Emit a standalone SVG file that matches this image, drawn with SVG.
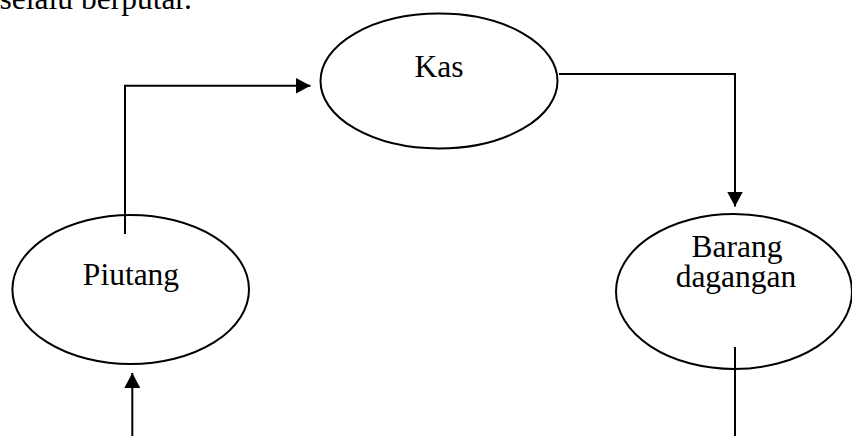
<svg xmlns="http://www.w3.org/2000/svg" width="852" height="436" viewBox="0 0 852 436">
  <style>
    .node { fill: #ffffff; stroke: #000000; stroke-width: 2; }
    .label { font-family: "Liberation Serif", "Times New Roman", serif; font-size: 31.5px; fill: #000000; }
    .edge { fill: none; stroke: #000000; stroke-width: 2; }
  </style>
  <defs>
    <marker id="arrow" markerUnits="userSpaceOnUse" markerWidth="16" markerHeight="16" viewBox="0 0 16 16" refX="15" refY="8" orient="auto">
      <path d="M0,0 L15,8 L0,16 Z" fill="#000000"/>
    </marker>
  </defs>
  <rect width="852" height="436" fill="#ffffff"/>

  <!-- running text line above the cycle -->
  <text class="label" x="192" y="9" text-anchor="end">selalu berputar.</text>

  <g id="kas">
    <ellipse class="node" cx="439" cy="81" rx="118.5" ry="67.5"/>
    <text class="label" x="439" y="77" text-anchor="middle">Kas</text>
  </g>

  <g id="piutang">
    <ellipse class="node" cx="130.7" cy="289.5" rx="118.3" ry="74.5"/>
    <text class="label" x="131" y="285" text-anchor="middle">Piutang</text>
  </g>

  <g id="barang-dagangan">
    <ellipse class="node" cx="734" cy="291.5" rx="118" ry="77.5"/>
    <text class="label" x="737" y="256.5" text-anchor="middle">Barang</text>
    <text class="label" x="736" y="286.5" text-anchor="middle">dagangan</text>
  </g>

  <g id="connectors">
    <!-- Piutang to Kas -->
    <path class="edge" d="M125,234 L125,85.7 L310.5,85.7" marker-end="url(#arrow)"/>
    <!-- Kas to Barang dagangan -->
    <path class="edge" d="M559,74 L735,74 L735,206.5" marker-end="url(#arrow)"/>
    <!-- lower return into Piutang -->
    <path class="edge" d="M132.3,436 L132.3,373" marker-end="url(#arrow)"/>
    <!-- lower line leaving Barang dagangan -->
    <path class="edge" stroke-width="1.5" d="M735,347 L735,436"/>
  </g>
</svg>
